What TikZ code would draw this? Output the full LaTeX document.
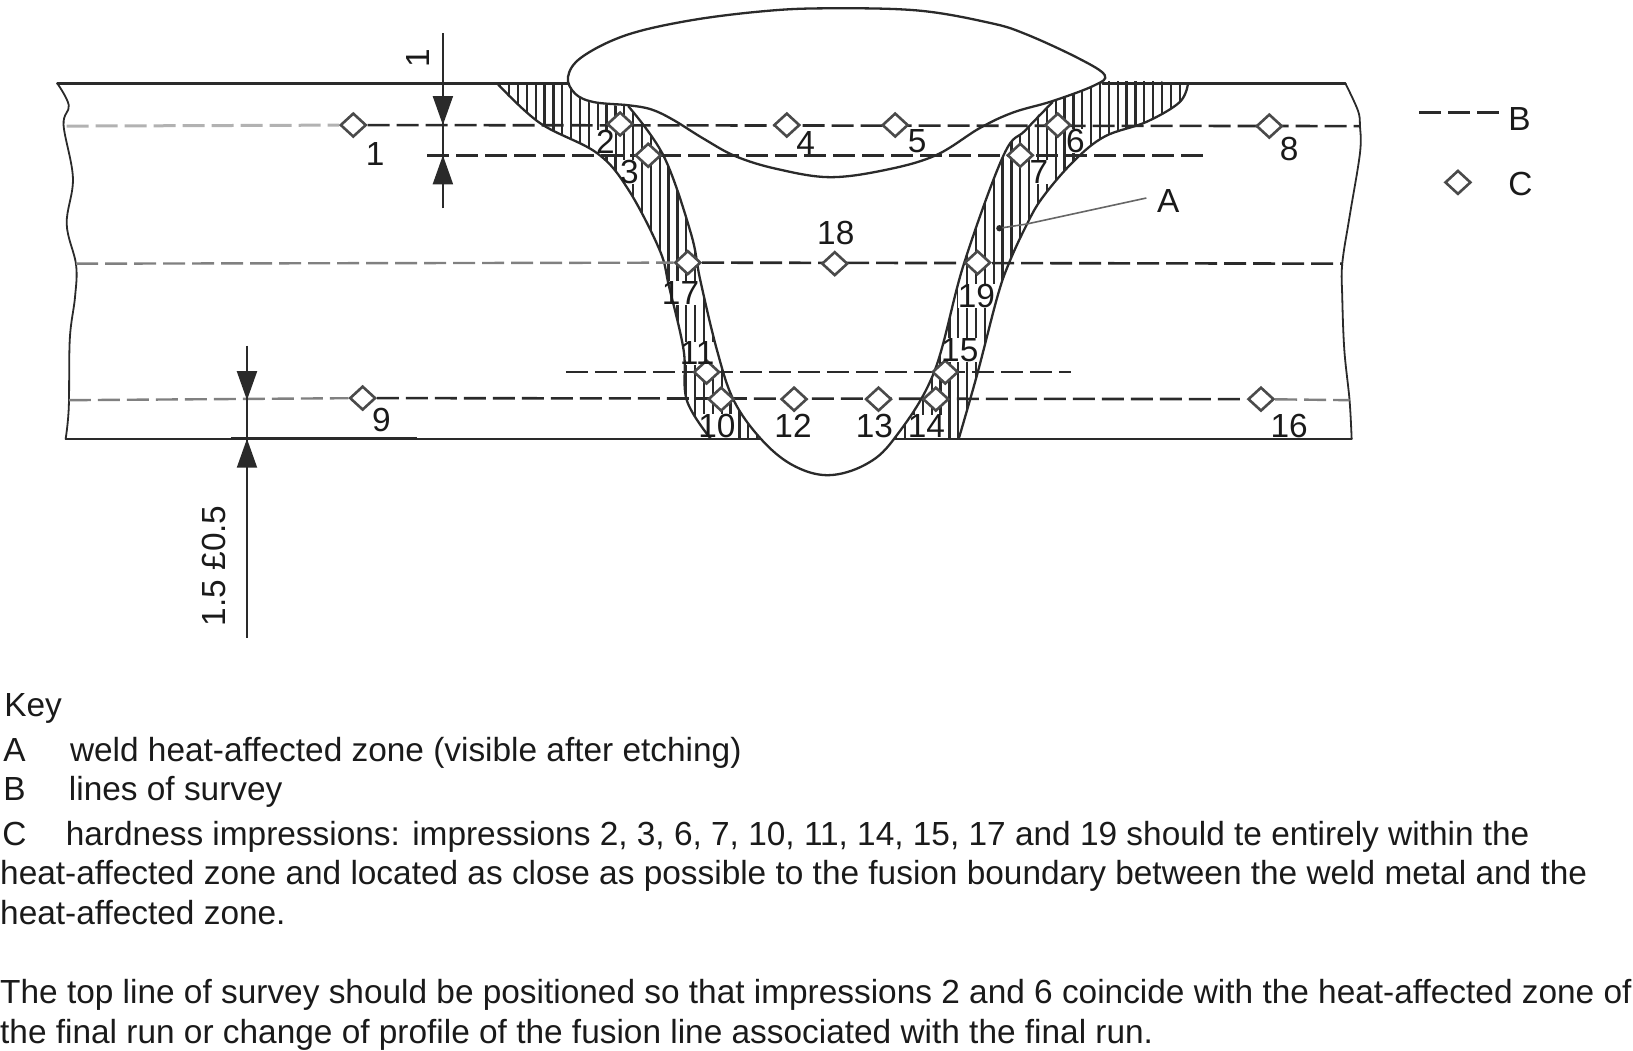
\documentclass[tikz,border=0pt]{standalone}
\usepackage{fontspec}
\setmainfont{Liberation Sans}
\usetikzlibrary{shapes.geometric,arrows.meta}
\pgfdeclarelayer{hatchl}\pgfdeclarelayer{halol}\pgfdeclarelayer{linel}
\pgfsetlayers{hatchl,halol,linel,main}
\definecolor{ink}{HTML}{2A2A2A}
\definecolor{txt}{HTML}{1A1A1A}
\tikzset{
  mark d/.style={diamond,aspect=1.1,draw=ink!85,line width=2.6pt,fill=white,inner sep=0pt,minimum width=26pt,minimum height=24pt},
  lab/.style={font=\fontsize{33.4}{40}\selectfont,text=txt,inner sep=0pt},
  keyt/.style={font=\fontsize{33.4}{40}\selectfont,text=txt,inner sep=0pt,anchor=base west},
  outl/.style={draw=ink,line width=2.3pt,line cap=round,line join=round},
  thin outl/.style={draw=ink,line width=2.3pt},
  survey/.style={draw=ink,line width=2.6pt,dash pattern=on 22pt off 7pt},
  survey g1/.style={draw=black!30,line width=3pt,dash pattern=on 22pt off 7pt},
  survey g2/.style={draw=black!50,line width=2.4pt,dash pattern=on 22pt off 7pt},
  dimline/.style={draw=ink,line width=2pt},
  dimtip/.style={draw=ink,line width=2pt,-{Triangle[length=29pt,width=20pt]}},
}
\begin{document}
\begin{tikzpicture}[x=1.0421pt,y=-1.0421pt]
\useasboundingbox (0,0) rectangle (1567,1007.6);
% diamonds
\foreach \n/\x/\y in {1/339/120,2/595/119,3/622/149,4/755/120,5/859/120,6/1015/120,7/979/149,8/1218/121,9/348/382,10/692/383,11/678/357,12/762/383,13/843/383,14/898/383,15/907/357,16/1210/383,17/660/252,18/801/253,19/938/252}
  \node[mark d] (d\n) at (\x,\y) {};
\node[mark d] (dC) at (1399,175) {};
% labels
\foreach \n/\x/\y in {1/360/148,2/581/136,3/604/165,4/773/137,5/880/135,6/1032/135,7/997/165,8/1237/143,9/366/403,10/688/409,11/669/339,12/761/409,13/839/409,14/889/409,15/921/336,16/1237/409,17/653/281,18/802/224,19/937/284}
  \node[lab] (l\n) at (\x,\y) {\n};
\node[lab] (lA) at (1121,193) {A};
\node[lab] (lB) at (1458,114) {B};
\node[lab] (lC) at (1459,177) {C};
\node[lab,rotate=90] (dim1) at (401,56) {1};
\node[lab,rotate=90] (dim2) at (205,543) {1.5 £0.5};
% key
\node[keyt] (k0) at (4,688) {Key};
\node[keyt] (k1) at (3,731) {A};
\node[keyt] (k1t) at (67,731) {weld heat-affected zone (visible after etching)};
\node[keyt] (k2) at (3,768) {B};
\node[keyt] (k2t) at (66,768) {lines of survey};
\node[keyt] (k3) at (2,811) {C};
\node[keyt] (k3t) at (63,811) {hardness impressions: impressions 2, 3, 6, 7, 10, 11, 14, 15, 17 and 19 should te entirely within the};
\node[keyt] (k4) at (0,849) {heat-affected zone and located as close as possible to the fusion boundary between the weld metal and the};
\node[keyt] (k5) at (0,887) {heat-affected zone.};
\node[keyt] (k6) at (0,963) {The top line of survey should be positioned so that impressions 2 and 6 coincide with the heat-affected zone of};
\node[keyt] (k7) at (0,1001) {the final run or change of profile of the fusion line associated with the final run.};
% free ends
\coordinate (s1l) at (64,121); \coordinate (s1r) at (1305,121);
\coordinate (s2l) at (410,149); \coordinate (s2r) at (1158,149);
\coordinate (s3l) at (73,253); \coordinate (s3r) at (1288,253);
\coordinate (s4l) at (543,357); \coordinate (s4r) at (1028,357);
\coordinate (s5l) at (66,384); \coordinate (s5r) at (1295,384);
\coordinate (la) at (1362,108); \coordinate (lb) at (1441,108);
\coordinate (a1t) at (425,32); \coordinate (a1m) at (425,120);
\coordinate (a1b) at (425,200); \coordinate (a1n) at (425,149);
\coordinate (a2t) at (237,332); \coordinate (a2m) at (237,384);
\coordinate (a2b) at (237,612); \coordinate (a2n) at (237,421);
\coordinate (ldA) at (1100,190); \coordinate (ldB) at (985,215); \coordinate (ldC) at (959,219);
\begin{pgfonlayer}{hatchl}
  % left heat-affected zone hatching
  \begin{scope}
    \clip plot[smooth,tension=0.6] coordinates {(477,80)(518,118)(573,147)(603,182)(633,240)(642,275)(656,336)(659,384)(682,421)}
      -- (730,421)
      -- plot[smooth,tension=0.6] coordinates {(730,421)(704,384)(688,336)(672,269)(663,224)(637,150)(603,102)}
      -- plot[smooth,tension=0.6] coordinates {(603,102)(565,98)(550,88)(545,80)} -- cycle;
    \foreach \x in {480,488.5,...,740} \draw[thin outl] (\x,78)--(\x,424);
  \end{scope}
  % right heat-affected zone hatching
  \begin{scope}
    \clip plot[smooth,tension=0.6] coordinates {(1140,80)(1132,98)(1100,117)(1060,131)(1030,155)(1000,190)(984,218)(968,253)(957,285)(938,358)(920,421)}
      -- (858,421)
      -- plot[smooth,tension=0.6] coordinates {(858,421)(896,358)(925,253)(963,149)(984,125)(1010,98)(1059,74)} -- cycle;
    \foreach \x in {860,868.5,...,1140} \draw[thin outl] (\x,78)--(\x,424);
  \end{scope}
\end{pgfonlayer}
\begin{pgfonlayer}{halol}
  \foreach \n in {2,3,6,7,10,11,14,15,17,19}
    \fill[white] (l\n.south west) rectangle (l\n.north east);
\end{pgfonlayer}
\begin{pgfonlayer}{linel}
  % plate edges
  \draw[outl] (55,80)--(546,80);
  \draw[outl] (1058,80)--(1291,80);
  \draw[outl] (63,421)--(730,421) (858,421)--(1297,421);
  \draw[draw=ink,line width=3pt] (222,421)--(400,421);
  \draw[outl,line width=1.8pt] plot[smooth,tension=0.6] coordinates {(55,80)(66,101)(61,120)(70,171)(64,215)(73,254)(72,285)(67,325)(66,391)(63,421)};
  \draw[outl,line width=1.8pt] plot[smooth,tension=0.6] coordinates {(1291,80)(1303,106)(1305,121)(1305,147)(1295,208)(1288,253)(1288,285)(1290,336)(1295,384)(1297,421)};
  % heat-affected zone outlines
  \draw[outl] plot[smooth,tension=0.6] coordinates {(477,80)(518,118)(573,147)(603,182)(633,240)(642,275)(656,336)(659,384)(682,421)};
  \draw[outl] plot[smooth,tension=0.6] coordinates {(1140,80)(1132,98)(1100,117)(1060,131)(1030,155)(1000,190)(984,218)(968,253)(957,285)(938,358)(920,421)};
  % fusion line and root
  \draw[outl] plot[smooth,tension=0.6] coordinates {(603,102)(637,150)(663,224)(672,269)(688,336)(704,384)(730,421)(760,446)(794,456)(830,446)(858,421)(896,358)(925,253)(963,149)(984,125)(1010,98)};
  % final run
  \draw[outl,fill=white] plot[smooth cycle,tension=0.6] coordinates {(545,74)(558,55)(600,34)(660,20)(730,11)(790,8)(880,10)(950,22)(985,33)(1035,56)(1060,72)(1050,82)(1010,97)(972,108)(940,123)(898,149)(850,163)(796,170)(745,162)(706,150)(675,133)(646,115)(625,105)(603,101)(570,98)(552,90)};
  % survey lines
  \draw[survey g1] (s1l)--(d1);
  \draw[survey] (d1)--(s1r);
  \draw[survey] (s2l)--(s2r);
  \draw[survey g2] (s3l)--(d17);
  \draw[survey] (d17)--(s3r);
  \draw[survey] (s4l)--(s4r);
  \draw[survey g2] (s5l)--(d9);
  \draw[survey] (d9)--(d16);
  \draw[survey g2] (d16)--(s5r);
  \draw[survey] (la)--(lb);
  % leader to A
  \draw[draw=black!60,line width=1.6pt] (ldA)--(ldB)--(ldC);
  \fill[ink] (ldC) circle (3.2pt);
  % dimensions
  \draw[dimline] (a1t)--(a1b);
  \draw[dimline] (a2t)--(a2b);
  \draw[dimtip] (a1t)--(a1m);
  \draw[dimtip] (a1b)--(a1n);
  \draw[dimtip] (a2t)--(a2m);
  \draw[dimtip] (a2b)--(a2n);
\end{pgfonlayer}
\end{tikzpicture}
\end{document}
